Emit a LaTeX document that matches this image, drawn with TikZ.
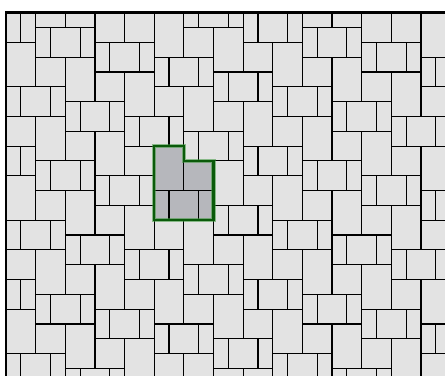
\documentclass[tikz,border=0pt]{standalone}
\definecolor{tilegray}{RGB}{227,227,227}
\definecolor{hlgray}{RGB}{182,183,188}
\definecolor{hlgreen}{RGB}{10,90,10}
\definecolor{halogreen}{RGB}{60,150,60}
\tikzset{
  tile/.style={fill=tilegray, draw=black, line width=1.1pt},
  hltile/.style={fill=hlgray, draw=black, line width=1.1pt},
  frame/.style={draw=black, line width=2.4pt},
  outline/.style={draw=hlgreen, line width=2.3pt, line join=miter},
  halo/.style={draw=halogreen, line width=4pt, opacity=0.55, line join=miter}
}
\begin{document}
\begin{tikzpicture}[x=0.5cm,y=-0.5cm]
\useasboundingbox (-0.405,-0.857) rectangle (29.62,24.51);
\begin{scope}
\clip (0,0) rectangle (29.7,24.6);
\foreach \a in {-3,...,10}{
  \foreach \b in {-7,...,5}{
    \pgfmathsetmacro\dx{4*\a+2*\b}
    \pgfmathsetmacro\dy{\a-4*\b}
    \begin{scope}[shift={(\dx,\dy)}]
      \path[tile] (0,2) rectangle (2,5);
      \path[tile] (2,3) rectangle (4,5);
      \path[tile] (0,5) rectangle (1,7);
      \path[tile] (1,5) rectangle (3,7);
      \path[tile] (3,5) rectangle (4,7);
    \end{scope}
  }
}
% highlighted fundamental region
\begin{scope}[shift={(10,7)}]
  \path[hltile] (0,2) rectangle (2,5);
  \path[hltile] (2,3) rectangle (4,5);
  \path[hltile] (0,5) rectangle (1,7);
  \path[hltile] (1,5) rectangle (3,7);
  \path[hltile] (3,5) rectangle (4,7);
  \coordinate (p1) at (0,2);
  \coordinate (p2) at (2,2);
  \coordinate (p3) at (2,3);
  \coordinate (p4) at (4,3);
  \coordinate (p5) at (4,7);
  \coordinate (p6) at (0,7);
\end{scope}
\draw[halo] (p1) -- (p2) -- (p3) -- (p4) -- (p5) -- (p6) -- cycle;
\draw[outline] (p1) -- (p2) -- (p3) -- (p4) -- (p5) -- (p6) -- cycle;
\end{scope}
\coordinate (fb) at (0,24.6);
\coordinate (fc) at (0,0);
\coordinate (fr) at (29.7,0);
\draw[frame] (fb) -- (fc) -- (fr);
\end{tikzpicture}
\end{document}
